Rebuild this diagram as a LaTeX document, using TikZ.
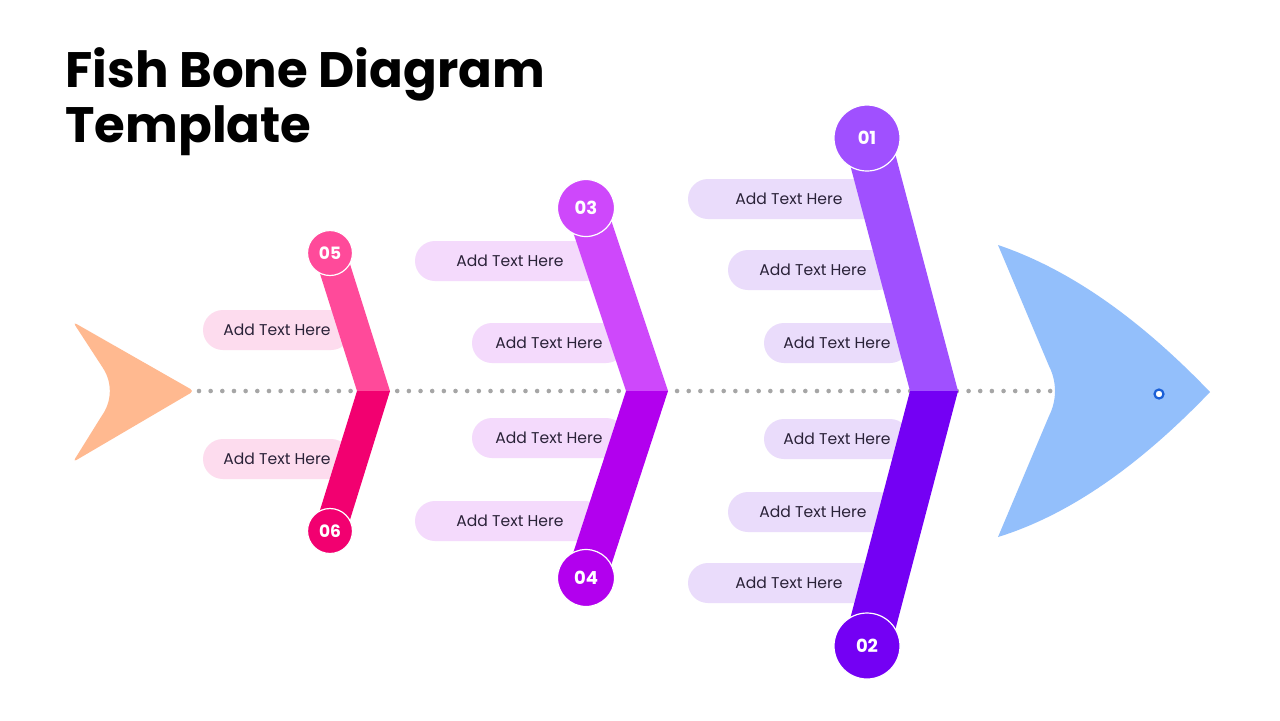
\documentclass[tikz,border=0pt]{standalone}
\usepackage{fontspec}
\setmainfont{Poppins}
\definecolor{tailc}{HTML}{FFB990}
\definecolor{headc}{HTML}{93BFFB}
\definecolor{eyec}{HTML}{1A5FD6}
\definecolor{dotc}{HTML}{A6A6A6}
\definecolor{txtc}{HTML}{2A2238}
\definecolor{pinkA}{HTML}{FF4A9A}
\definecolor{pinkB}{HTML}{F20070}
\definecolor{pinkP}{HTML}{FDDCEE}
\definecolor{magA}{HTML}{CE48FB}
\definecolor{magB}{HTML}{B200EE}
\definecolor{magP}{HTML}{F4DAFC}
\definecolor{vioA}{HTML}{A050FF}
\definecolor{vioB}{HTML}{7400F4}
\definecolor{vioP}{HTML}{EADCFB}
\begin{document}
\begin{tikzpicture}[x=0.5pt,y=-0.5pt,
  pill/.style={rounded corners=10pt, minimum height=20pt, inner sep=0pt,
    text=txtc, font=\fontsize{7.8}{9}\selectfont},
  numdot/.style={circle, draw=white, line width=0.6pt, inner sep=0pt,
    text=white, font=\bfseries\fontsize{9}{10}\selectfont},
  spine/.style={dotc, line width=2.3pt, line cap=round, dash pattern=on 0pt off 5.83pt}]
\fill[white] (0,0) rectangle (1280,720);
\useasboundingbox (0,0) rectangle (1280,720);

% titre
\node[anchor=base west, align=left, inner sep=0pt,
  font=\bfseries\fontsize{24.9}{27.5}\selectfont] (title) at (65,142)
  {Fish Bone Diagram\\Template};

% arête centrale
\coordinate (spineL) at (199,391);
\coordinate (spineR) at (1051,391);
\draw[spine] (spineL) -- (spineR);

% étiquettes
\foreach \x/\y/\w/\n in {277/330/74/a, 277/459/74/b}
  \node[pill, fill=pinkP, minimum width=\w pt] (t\n) at (\x,\y) {Add Text Here};
\foreach \x/\y/\w/\n in {510/261/95/c, 549/343/77/d, 549/438/77/e, 510/521/95/f}
  \node[pill, fill=magP, minimum width=\w pt] (t\n) at (\x,\y) {Add Text Here};
\foreach \x/\y/\w/\n in {789/199/101/g, 813/270/85/h, 837/343/73/i,
                         837/439/73/j, 813/512/85/k, 789/583/101/l}
  \node[pill, fill=vioP, minimum width=\w pt] (t\n) at (\x,\y) {Add Text Here};

% arêtes
\fill[pinkA] (313.5,253) -- (346.5,253) -- (390,391) -- (357,391) -- cycle;
\fill[pinkB] (357,391) -- (390,391) -- (346.5,531) -- (313.5,531) -- cycle;
\fill[magA] (565,208) -- (607,208) -- (668,391) -- (626,391) -- cycle;
\fill[magB] (626,391) -- (668,391) -- (607,578) -- (565,578) -- cycle;
\fill[vioA] (843,138) -- (891,138) -- (958,391) -- (910,391) -- cycle;
\fill[vioB] (910,391) -- (958,391) -- (891,646) -- (843,646) -- cycle;

% numéros
\node[numdot, fill=pinkA, minimum size=22.5pt, font=\bfseries\fontsize{8.5}{10}\selectfont] (n05) at (330,253) {05};
\node[numdot, fill=pinkB, minimum size=22.5pt, font=\bfseries\fontsize{8.5}{10}\selectfont] (n06) at (330,531) {06};
\node[numdot, fill=magA, minimum size=28.5pt] (n03) at (586,208) {03};
\node[numdot, fill=magB, minimum size=28.5pt] (n04) at (586,578) {04};
\node[numdot, fill=vioA, minimum size=33pt] (n01) at (867,138) {01};
\node[numdot, fill=vioB, minimum size=33pt] (n02) at (867,646) {02};

% queue
\fill[tailc, rounded corners=2pt] (73,322) -- (194,391) -- (73,462) -- (101,417)
  .. controls (112,400) and (112,382) .. (101,365) -- cycle;

% tête
\fill[headc] (998,245) .. controls (1069,269) and (1139,318) .. (1210,392)
  .. controls (1139,466) and (1069,515) .. (998,537) -- (1049,416)
  .. controls (1057,400) and (1057,382) .. (1049,366) -- cycle;
\node[circle, draw=eyec, fill=white, line width=1.1pt, minimum size=4.5pt, inner sep=0pt] (eye) at (1159,394) {};
\end{tikzpicture}
\end{document}
